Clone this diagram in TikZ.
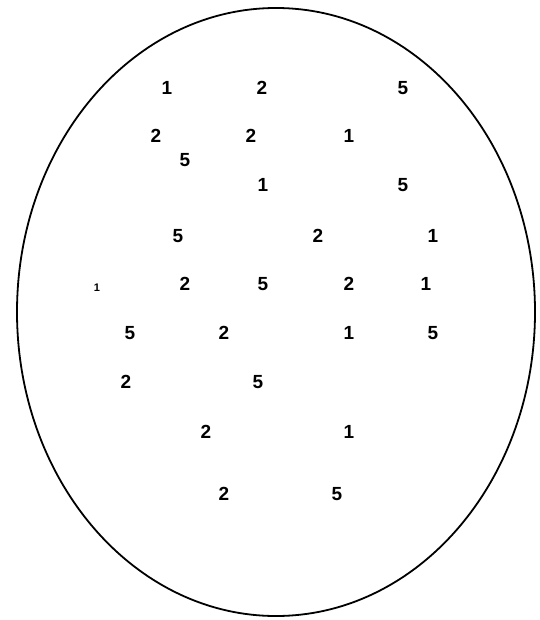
\documentclass[tikz,border=0pt]{standalone}
\usepackage{fontspec}
\setmainfont{Liberation Sans}
\begin{document}
\begin{tikzpicture}[x=1pt,y=-1pt,
  num/.style={font=\bfseries\fontsize{19}{19}\selectfont, inner sep=0pt},
  smallnum/.style={font=\bfseries\fontsize{11}{11}\selectfont, inner sep=0pt}]
\useasboundingbox (0,0) rectangle (539,620);
\draw[line width=1.8pt] (276,312) ellipse [x radius=259, y radius=304];
\node[num] (a1) at (167,88) {1};
\node[num] (a2) at (262,88) {2};
\node[num] (a3) at (403,88) {5};
\node[num] (b1) at (156,136) {2};
\node[num] (b2) at (251,136) {2};
\node[num] (b3) at (349,136) {1};
\node[num] (b4) at (185,160) {5};
\node[num] (c1) at (263,185) {1};
\node[num] (c2) at (403,185) {5};
\node[num] (d1) at (178,236) {5};
\node[num] (d2) at (318,236) {2};
\node[num] (d3) at (433,236) {1};
\node[smallnum] (e0) at (97,288) {1};
\node[num] (e1) at (185,284) {2};
\node[num] (e2) at (263,284) {5};
\node[num] (e3) at (349,284) {2};
\node[num] (e4) at (426,284) {1};
\node[num] (f1) at (130,333) {5};
\node[num] (f2) at (224,333) {2};
\node[num] (f3) at (349,333) {1};
\node[num] (f4) at (433,333) {5};
\node[num] (g1) at (126,382) {2};
\node[num] (g2) at (258,382) {5};
\node[num] (h1) at (206,432) {2};
\node[num] (h2) at (349,432) {1};
\node[num] (i1) at (224,494) {2};
\node[num] (i2) at (337,494) {5};
\end{tikzpicture}
\end{document}
